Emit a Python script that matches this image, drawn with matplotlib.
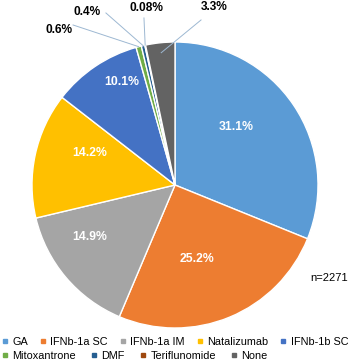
import numpy as np
import matplotlib
matplotlib.use('Agg')
from matplotlib import pyplot as plt
from matplotlib.lines import Line2D

plt.rcParams['font.family'] = ['Liberation Sans', 'DejaVu Sans']

drugs = ['GA', 'IFNb-1a SC', 'IFNb-1a IM', 'Natalizumab', 'IFNb-1b SC',
         'Mitoxantrone', 'DMF', 'Teriflunomide', 'None']
pct = [31.1, 25.2, 14.9, 14.2, 10.1, 0.6, 0.4, 0.08, 3.3]
pct_labels = ['31.1%', '25.2%', '14.9%', '14.2%', '10.1%', '0.6%', '0.4%', '0.08%', '3.3%']
colors = ['#5b9bd5', '#ed7d31', '#a5a5a5', '#ffc000', '#4472c4',
          '#70ad47', '#255e91', '#9e480e', '#636363']
n_total = 'n=2271'

fig = plt.figure(figsize=(3.5, 3.63), dpi=100)
ax = fig.add_axes([0, 0, 1, 1])
wedges, _ = ax.pie(pct, colors=colors, startangle=90, counterclock=False,
                   wedgeprops=dict(edgecolor='white', linewidth=1.0))
ax.set_aspect('auto')
ax.set_xlim(-175 / 143, 175 / 143)
ax.set_ylim(-178 / 143, 185 / 143)
ax.axis('off')

# inside labels: (angle nudge in deg, radius)
inner = {0: (9.6, 0.59), 1: (-5.9, 0.54), 2: (-9.0, 0.70), 3: (-8.5, 0.635), 4: (-6.7, 0.81)}
for i, (dang, r) in inner.items():
    w = wedges[i]
    a = np.deg2rad((w.theta1 + w.theta2) / 2 + dang)
    ax.text(r * np.cos(a), r * np.sin(a), pct_labels[i], color='white',
            fontsize=8.8, fontweight='bold', ha='center', va='center')

# outside labels with leader lines: text pos, line start
outer = {5: ((-0.81, 1.085), (-0.713, 1.119)),
         6: ((-0.615, 1.21), (-0.483, 1.203)),
         7: ((-0.196, 1.238), (-0.217, 1.168)),
         8: ((0.273, 1.245), (0.182, 1.154))}
for i, (tpos, lpos) in outer.items():
    w = wedges[i]
    a = np.deg2rad((w.theta1 + w.theta2) / 2)
    r = 0.93 if i == 8 else 1.0
    ax.plot([lpos[0], r * np.cos(a)], [lpos[1], r * np.sin(a)],
            color='#9db8d2', lw=0.7)
    ax.text(tpos[0], tpos[1], pct_labels[i], color='black', fontsize=8.6,
            fontweight='bold', ha='center', va='center')

fig.text(348 / 350, 1 - 278 / 363, n_total, ha='right', va='center', fontsize=8)

def handles(idx):
    return [Line2D([], [], marker='s', ls='', color=colors[i], markersize=3.3) for i in idx]

kw = dict(frameon=False, fontsize=7.8, borderpad=0, borderaxespad=0,
          handlelength=0.5, handletextpad=0.45, loc='center left')
leg1 = fig.legend(handles(range(5)), drugs[:5], ncol=5, columnspacing=1.12,
                  bbox_to_anchor=(2 / 350, 1 - 342 / 363), **kw)
leg2 = fig.legend(handles(range(5, 9)), drugs[5:], ncol=4, columnspacing=1.4,
                  bbox_to_anchor=(2 / 350, 1 - 356 / 363), **kw)

fig.savefig('out.png', dpi=100)
